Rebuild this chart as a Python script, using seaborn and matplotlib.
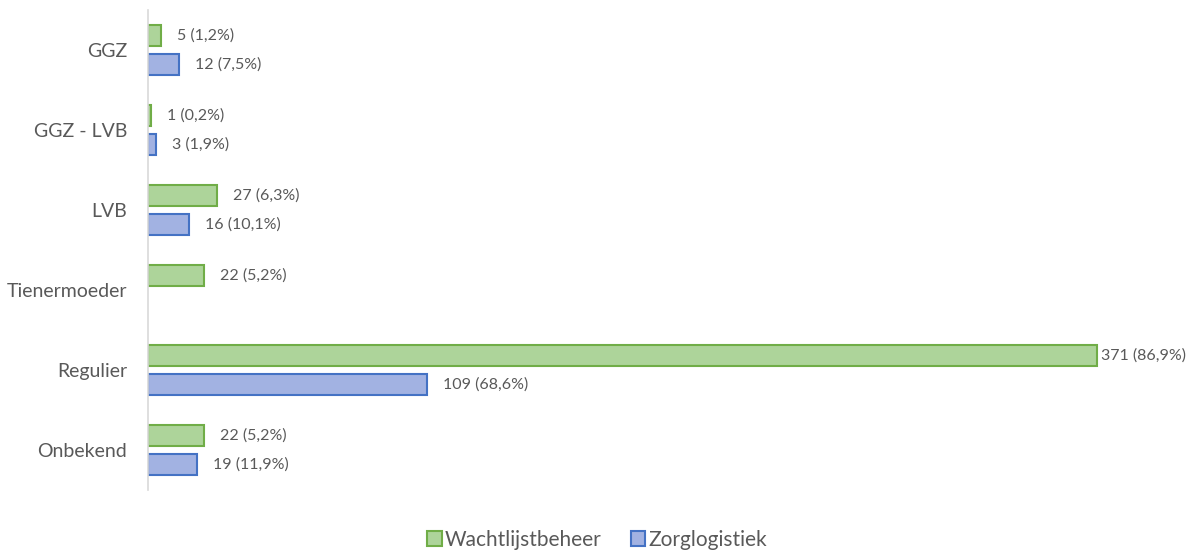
import numpy as np
import pandas as pd
import matplotlib
matplotlib.use("Agg")
import matplotlib.pyplot as plt
import seaborn as sns
from matplotlib.patches import Patch

categories = ["GGZ", "GGZ - LVB", "LVB", "Tienermoeder", "Regulier", "Onbekend"]
series = ["Wachtlijstbeheer", "Zorglogistiek"]
wacht_counts = [5, 1, 27, 22, 371, 22]
wacht_pct = ["1,2%", "0,2%", "6,3%", "5,2%", "86,9%", "5,2%"]
zorg_counts = [12, 3, 16, np.nan, 109, 19]
zorg_pct = ["7,5%", "1,9%", "10,1%", "", "68,6%", "11,9%"]

fills = {"Wachtlijstbeheer": "#ADD49A", "Zorglogistiek": "#A2B2E2"}
edges = {"Wachtlijstbeheer": "#70AD47", "Zorglogistiek": "#4472C4"}

rows = []
for c, v, p in zip(categories, wacht_counts, wacht_pct):
    rows.append({"cat": c, "serie": series[0], "val": v, "lab": f"{v} ({p})"})
for c, v, p in zip(categories, zorg_counts, zorg_pct):
    if not np.isnan(v):
        rows.append({"cat": c, "serie": series[1], "val": v, "lab": f"{int(v)} ({p})"})
df = pd.DataFrame(rows)

sns.set_theme(style="white")
plt.rcParams["font.family"] = ["Lato", "DejaVu Sans"]

W, H = 1194, 552
fig = plt.figure(figsize=(W / 100, H / 100), dpi=100)
ax_left, ax_right, ax_top, ax_bot = 148, 1110, 10, 490
ax = fig.add_axes([ax_left / W, 1 - ax_bot / H, (ax_right - ax_left) / W, (ax_bot - ax_top) / H])

sns.barplot(data=df, y="cat", x="val", hue="serie", order=categories, hue_order=series,
            orient="h", width=0.725, gap=0.28, palette=fills, saturation=1, ax=ax,
            legend=False, errorbar=None)

for container, s in zip(ax.containers, series):
    for bar in container:
        bar.set_edgecolor(edges[s])
        bar.set_linewidth(1.5)

xmax = 376
ax.set_xlim(0, xmax)
ax.set_ylim(5.5, -0.5)

# labels
px_per_unit = (ax_right - ax_left) / xmax
for container, s in zip(ax.containers, series):
    sub = df[df.serie == s].set_index("cat").reindex(categories).dropna()
    labs = list(sub["lab"])
    vals = list(sub["val"])
    for bar, lab, v in zip(container, labs, vals):
        end_px = ax_left + v * px_per_unit
        pad = 16 if end_px + 16 + 90 < W else 4
        ax.annotate(lab, xy=(bar.get_width(), bar.get_y() + bar.get_height() / 2),
                    xytext=(pad * 0.72, 0), textcoords="offset points",
                    ha="left", va="center", fontsize=11.5, color="#595959",
                    annotation_clip=False)

ax.set_xlabel("")
ax.set_ylabel("")
ax.set_xticks([])
ax.tick_params(axis="y", length=0, pad=15, labelsize=14, labelcolor="#595959")
for sp in ["top", "right", "bottom"]:
    ax.spines[sp].set_visible(False)
ax.spines["left"].set_color("#D9D9D9")
ax.spines["left"].set_linewidth(1.2)

handles = [Patch(facecolor=fills[s], edgecolor=edges[s], linewidth=1.5, label=s) for s in series]
fig.legend(handles=handles, loc="center", bbox_to_anchor=(597 / W, 1 - 540 / H), ncol=2,
           frameon=False, fontsize=15, labelcolor="#595959", handlelength=0.7,
           handleheight=0.7, handletextpad=0.15, columnspacing=1.4)

fig.savefig("out.png", dpi=100)
